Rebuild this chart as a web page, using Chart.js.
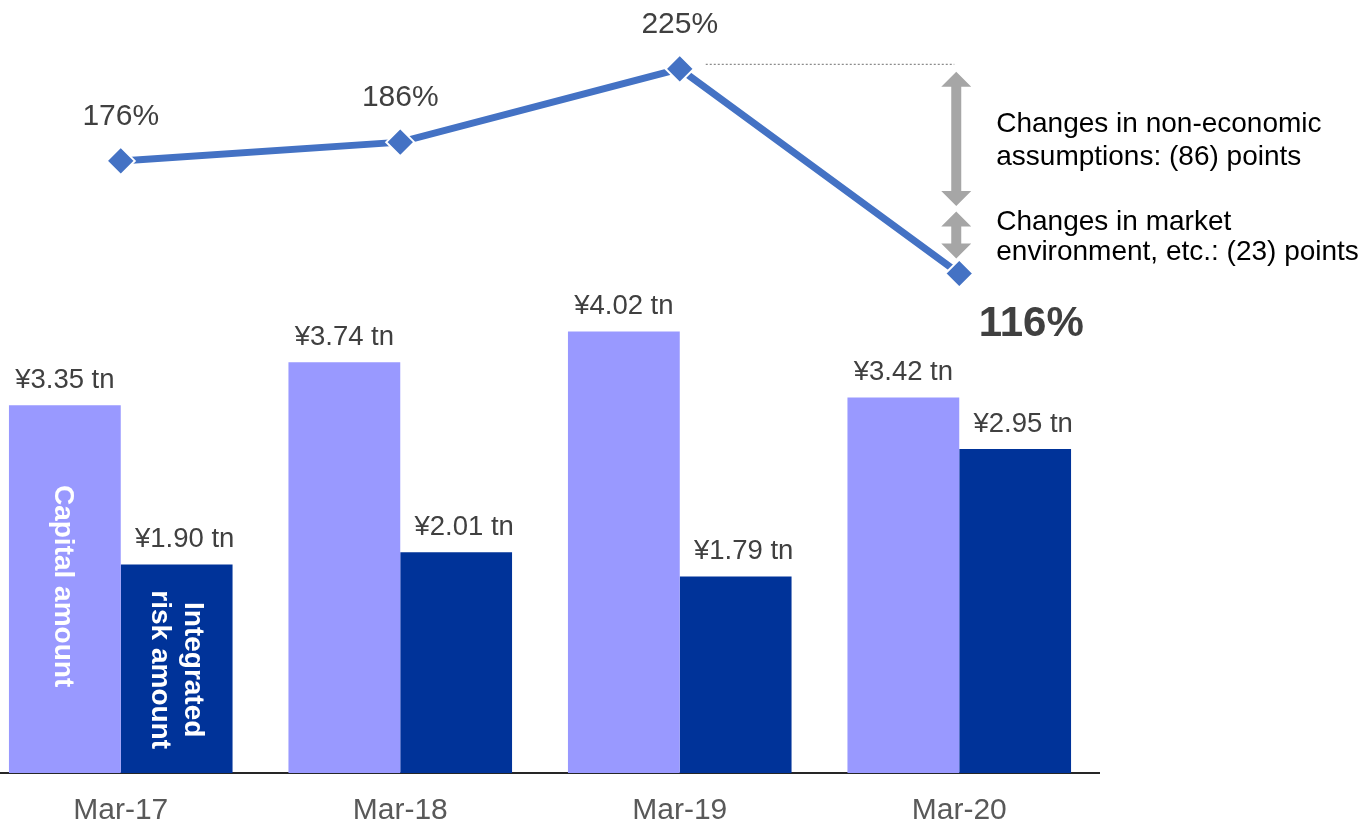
<!DOCTYPE html>
<html>
<head>
<meta charset="utf-8">
<script src="https://cdn.jsdelivr.net/npm/chart.js@4"></script>
<style>
  html, body { margin: 0; padding: 0; background: #fff; overflow: hidden; }
  #wrap { position: absolute; left: -19px; top: 0; width: 1382px; height: 849px; }
</style>
</head>
<body>
<div id="wrap"><canvas id="myChart"></canvas></div>
<script>
const categories = ['Mar-17', 'Mar-18', 'Mar-19', 'Mar-20'];
const capitalAmount = [3.35, 3.74, 4.02, 3.42];   // ¥ tn
const riskAmount = [1.90, 2.01, 1.79, 2.95];      // ¥ tn
const esrRatio = [176, 186, 225, 116];            // %

// breakdown of the drop between Mar-19 and Mar-20 (arrow spans in % units)
const changeNotes = [
  { from: 223.5, to: 152, lines: ['Changes in non-economic', 'assumptions: (86) points'], gap: 33 },
  { from: 149, to: 124, lines: ['Changes in market', 'environment, etc.: (23) points'], gap: 30 }
];

const FONT = '"Liberation Sans", Arial, sans-serif';
const ctx = document.getElementById('myChart').getContext('2d');

function drawDoubleArrow(c, x, y1, y2) {
  const shaft = 5, head = 15, headH = 15;
  c.beginPath();
  c.moveTo(x, y1);
  c.lineTo(x + head, y1 + headH);
  c.lineTo(x + shaft, y1 + headH);
  c.lineTo(x + shaft, y2 - headH);
  c.lineTo(x + head, y2 - headH);
  c.lineTo(x, y2);
  c.lineTo(x - head, y2 - headH);
  c.lineTo(x - shaft, y2 - headH);
  c.lineTo(x - shaft, y1 + headH);
  c.lineTo(x - head, y1 + headH);
  c.closePath();
  c.fill();
}

const labelsPlugin = {
  id: 'labels',
  afterDatasetsDraw(chart) {
    const c = chart.ctx;
    const capMeta = chart.getDatasetMeta(0);
    const riskMeta = chart.getDatasetMeta(1);
    const lineMeta = chart.getDatasetMeta(2);
    const yPct = chart.scales.y1;
    c.save();

    // value labels above the bars
    c.fillStyle = '#404040';
    c.font = '27.5px ' + FONT;
    c.textAlign = 'center';
    c.textBaseline = 'middle';
    capMeta.data.forEach((bar, i) => {
      c.fillText('¥' + capitalAmount[i].toFixed(2) + ' tn', bar.x, bar.y - 25);
    });
    riskMeta.data.forEach((bar, i) => {
      c.fillText('¥' + riskAmount[i].toFixed(2) + ' tn', bar.x + 8, bar.y - 25);
    });

    // ratio labels
    c.font = '30px ' + FONT;
    lineMeta.data.forEach((pt, i) => {
      if (i === lineMeta.data.length - 1) return;
      c.fillText(esrRatio[i] + '%', pt.x, pt.y - 44);
    });
    const lastPt = lineMeta.data[lineMeta.data.length - 1];
    c.font = 'bold 42px ' + FONT;
    c.fillText(esrRatio[esrRatio.length - 1] + '%', lastPt.x + 72, lastPt.y + 51);

    // series names written inside the first pair of bars
    c.fillStyle = '#fff';
    c.font = 'bold 28px ' + FONT;
    const b0 = capMeta.data[0];
    c.save();
    c.translate(b0.x - 2, (b0.y + b0.base) / 2 - 3);
    c.rotate(Math.PI / 2);
    c.fillText('Capital amount', 0, 0);
    c.restore();
    const r0 = riskMeta.data[0];
    c.save();
    c.translate(r0.x, (r0.y + r0.base) / 2 + 1);
    c.rotate(Math.PI / 2);
    c.fillText('Integrated', 0, -16);
    c.fillText('risk amount', 0, 17);
    c.restore();

    // dotted reference at the Mar-19 level
    const peak = lineMeta.data[2];
    const arrowX = lastPt.x - 3;
    c.strokeStyle = '#8c8c8c';
    c.lineWidth = 1.3;
    c.setLineDash([2, 2]);
    c.beginPath();
    c.moveTo(peak.x + 26, peak.y - 4.5);
    c.lineTo(arrowX - 2, peak.y - 4.5);
    c.stroke();
    c.setLineDash([]);

    // arrows and notes
    changeNotes.forEach(note => {
      const top = yPct.getPixelForValue(note.from);
      const bottom = yPct.getPixelForValue(note.to);
      c.fillStyle = '#a6a6a6';
      drawDoubleArrow(c, arrowX, top, bottom);
      c.fillStyle = '#000';
      c.font = '28px ' + FONT;
      c.textAlign = 'left';
      const mid = (top + bottom) / 2 + 2;
      c.fillText(note.lines[0], arrowX + 40, mid - note.gap / 2);
      c.fillText(note.lines[1], arrowX + 40, mid + note.gap / 2);
    });

    c.restore();
  }
};

const chart = new Chart(ctx, {
  data: {
    labels: categories,
    datasets: [
      {
        type: 'bar',
        label: 'Capital amount',
        data: capitalAmount,
        backgroundColor: '#9999ff',
        yAxisID: 'y',
        barPercentage: 1,
        categoryPercentage: 0.8,
        order: 2
      },
      {
        type: 'bar',
        label: 'Integrated risk amount',
        data: riskAmount,
        backgroundColor: '#003399',
        yAxisID: 'y',
        barPercentage: 1,
        categoryPercentage: 0.8,
        order: 2
      },
      {
        type: 'line',
        label: 'ESR',
        data: esrRatio,
        borderColor: '#4472c4',
        borderWidth: 7,
        pointStyle: 'rectRot',
        pointRadius: 14,
        pointBackgroundColor: '#4472c4',
        pointBorderColor: '#fff',
        pointBorderWidth: 2,
        yAxisID: 'y1',
        tension: 0,
        clip: false,
        order: 1
      }
    ]
  },
  options: {
    responsive: true,
    maintainAspectRatio: false,
    animation: false,
    layout: { autoPadding: false, padding: { left: 0, right: 264, top: 0, bottom: 0 } },
    plugins: {
      legend: { display: false },
      tooltip: { enabled: false }
    },
    scales: {
      x: {
        grid: { display: false, drawTicks: false },
        border: { display: true, color: '#262626', width: 2 },
        ticks: {
          color: '#595959',
          padding: 23,
          font: { family: FONT, size: 30, lineHeight: 1 }
        }
      },
      y: {
        display: false,
        min: 0,
        max: 7.04
      },
      y1: {
        display: false,
        min: -150,
        max: 261.7
      }
    }
  },
  plugins: [labelsPlugin]
});
</script>
</body>
</html>
